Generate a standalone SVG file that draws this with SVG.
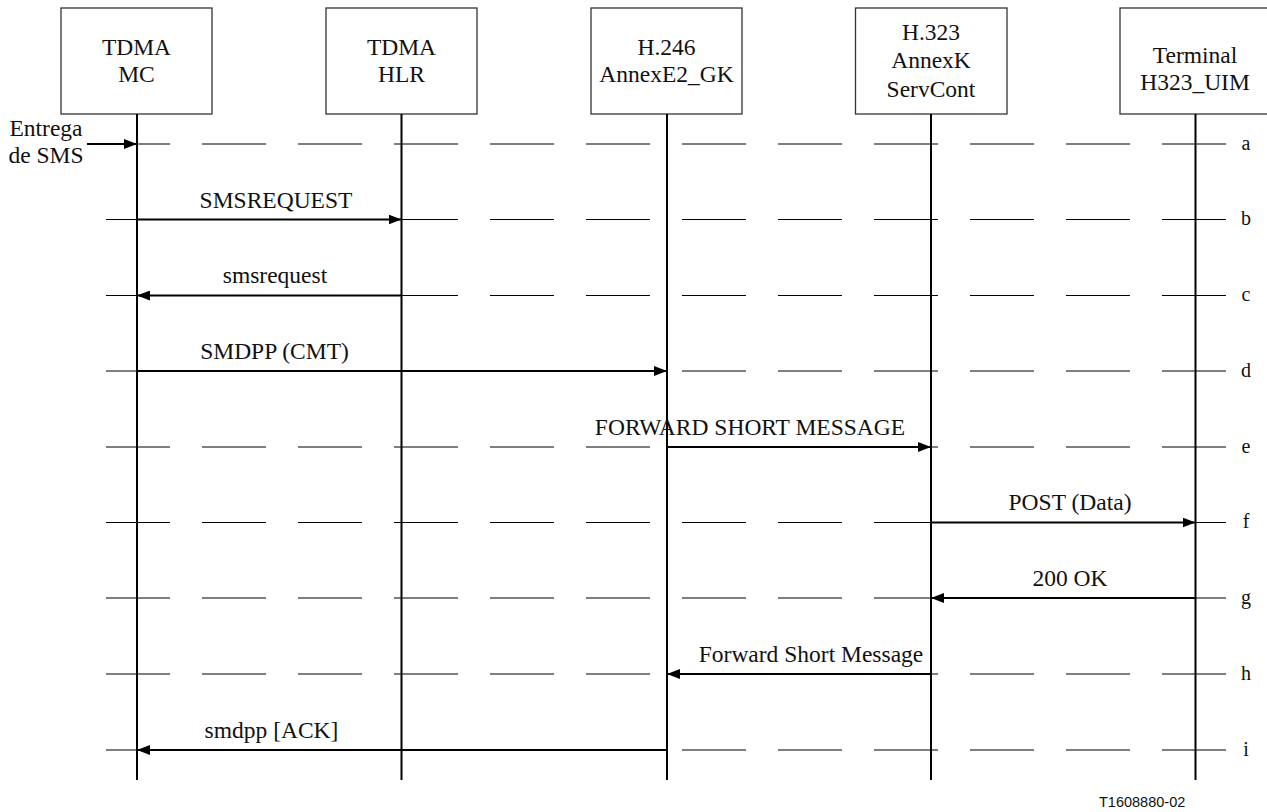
<svg xmlns="http://www.w3.org/2000/svg" width="1267" height="812" viewBox="0 0 1267 812">
<style>
.box{fill:#fff;stroke:#333;stroke-width:1.3}
.life{stroke:#000;stroke-width:2;fill:none}
.dash{stroke:#000;stroke-width:1;stroke-dasharray:64 32;fill:none}
.msg{stroke:#000;stroke-width:2.2;fill:none}
.t{font-family:'Liberation Serif','DejaVu Serif',serif;font-size:23.5px;fill:#111}
.c{text-anchor:middle}
.lbl{font-size:20px}
.fig{font-family:'Liberation Sans','DejaVu Sans',sans-serif;font-size:14.5px;fill:#111}
</style>
<defs>
<marker id="ah" markerWidth="14" markerHeight="10" refX="13" refY="5" orient="auto" markerUnits="userSpaceOnUse">
<path d="M0,0 L13,5 L0,10 Z" fill="#000"/>
</marker>
</defs>
<rect width="1267" height="812" fill="#fff"/>
<g id="rows">
<line class="dash" x1="106" y1="144" x2="1227" y2="144"/>
<line class="dash" x1="106" y1="219.5" x2="1227" y2="219.5"/>
<line class="dash" x1="106" y1="295.5" x2="1227" y2="295.5"/>
<line class="dash" x1="106" y1="371" x2="1227" y2="371"/>
<line class="dash" x1="106" y1="447" x2="1227" y2="447"/>
<line class="dash" x1="106" y1="522.5" x2="1227" y2="522.5"/>
<line class="dash" x1="106" y1="598" x2="1227" y2="598"/>
<line class="dash" x1="106" y1="674" x2="1227" y2="674"/>
<line class="dash" x1="106" y1="750" x2="1227" y2="750"/>
<text class="t c lbl" x="1246" y="150">a</text>
<text class="t c lbl" x="1246" y="225">b</text>
<text class="t c lbl" x="1246" y="301">c</text>
<text class="t c lbl" x="1246" y="377">d</text>
<text class="t c lbl" x="1246" y="453">e</text>
<text class="t c lbl" x="1246" y="528">f</text>
<text class="t c lbl" x="1246" y="604">g</text>
<text class="t c lbl" x="1246" y="680">h</text>
<text class="t c lbl" x="1246" y="756">i</text>
</g>
<g id="mc">
<rect class="box" x="61" y="8" width="151" height="106"/>
<text class="t c" x="136.5" y="55">TDMA</text>
<text class="t c" x="136.5" y="82">MC</text>
<line class="life" x1="137" y1="114" x2="137" y2="780"/>
</g>
<g id="hlr">
<rect class="box" x="326" y="8" width="151" height="106"/>
<text class="t c" x="401.5" y="55">TDMA</text>
<text class="t c" x="401.5" y="82">HLR</text>
<line class="life" x1="401.5" y1="114" x2="401.5" y2="780"/>
</g>
<g id="gk">
<rect class="box" x="591" y="8" width="151" height="106"/>
<text class="t c" x="666.5" y="55">H.246</text>
<text class="t c" x="666.5" y="82">AnnexE2_GK</text>
<line class="life" x1="667" y1="114" x2="667" y2="780"/>
</g>
<g id="sc">
<rect class="box" x="855.5" y="8" width="151.5" height="106"/>
<text class="t c" x="931" y="40">H.323</text>
<text class="t c" x="931" y="68">AnnexK</text>
<text class="t c" x="931" y="97">ServCont</text>
<line class="life" x1="931" y1="114" x2="931" y2="780"/>
</g>
<g id="term">
<rect class="box" x="1120" y="8" width="152" height="106"/>
<text class="t c" x="1195" y="63">Terminal</text>
<text class="t c" x="1195" y="90">H323_UIM</text>
<line class="life" x1="1195.5" y1="114" x2="1195.5" y2="780"/>
</g>
<g id="connectors">
<line class="msg" x1="87" y1="144" x2="137" y2="144" marker-end="url(#ah)"/>
<line class="msg" x1="137" y1="219.5" x2="401.5" y2="219.5" marker-end="url(#ah)"/>
<line class="msg" x1="401.5" y1="295.5" x2="137" y2="295.5" marker-end="url(#ah)"/>
<line class="msg" x1="137" y1="371" x2="667" y2="371" marker-end="url(#ah)"/>
<line class="msg" x1="667" y1="447" x2="931" y2="447" marker-end="url(#ah)"/>
<line class="msg" x1="931" y1="522.5" x2="1195.5" y2="522.5" marker-end="url(#ah)"/>
<line class="msg" x1="1195.5" y1="598" x2="931" y2="598" marker-end="url(#ah)"/>
<line class="msg" x1="931" y1="674" x2="667" y2="674" marker-end="url(#ah)"/>
<line class="msg" x1="667" y1="750" x2="137" y2="750" marker-end="url(#ah)"/>
<text class="t c" x="46" y="136">Entrega</text>
<text class="t c" x="46" y="163">de SMS</text>
<text class="t c" x="276" y="208">SMSREQUEST</text>
<text class="t c" x="275" y="283">smsrequest</text>
<text class="t c" x="274.5" y="359">SMDPP (CMT)</text>
<text class="t c" x="750" y="435">FORWARD SHORT MESSAGE</text>
<text class="t c" x="1070" y="510">POST (Data)</text>
<text class="t c" x="1070" y="586">200 OK</text>
<text class="t c" x="811" y="662">Forward Short Message</text>
<text class="t c" x="271.5" y="738">smdpp [ACK]</text>
</g>
<text class="fig" x="1099" y="807">T1608880-02</text>
</svg>
